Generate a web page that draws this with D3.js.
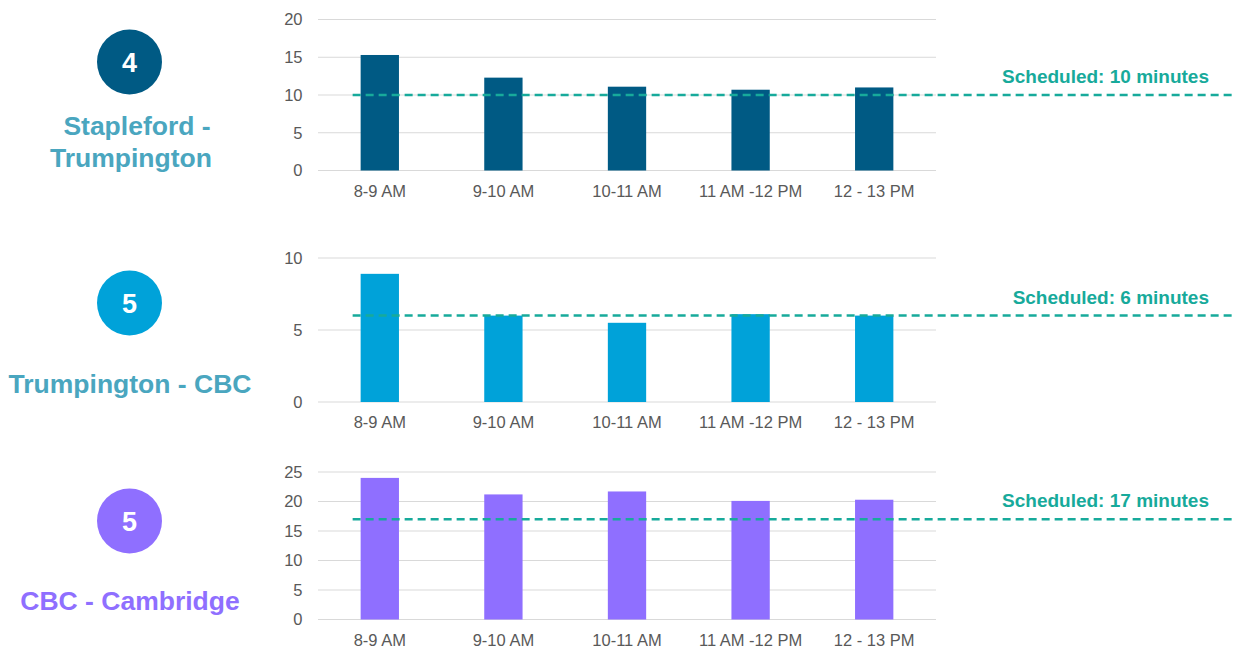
<!DOCTYPE html>
<html>
<head>
<meta charset="utf-8">
<script src="https://cdn.jsdelivr.net/npm/d3@7"></script>
<style>
  html, body { margin: 0; padding: 0; background: #ffffff; }
  svg { display: block; font-family: "Liberation Sans", Arial, sans-serif; }
</style>
</head>
<body>
<svg id="chart" width="1234" height="648"></svg>
<script>
// Time periods shared by every route panel
const periods = ["8-9 AM", "9-10 AM", "10-11 AM", "11 AM -12 PM", "12 - 13 PM"];

// Average headway (minutes) per route segment
const staplefordTrumpington = [15.3, 12.3, 11.1, 10.7, 11.0];
const trumpingtonCBC = [8.9, 6.0, 5.5, 6.1, 6.0];
const cbcCambridge = [24.0, 21.2, 21.7, 20.1, 20.3];

// Scheduled headway (minutes) per route segment
const scheduled = [10, 6, 17];

// Stop counts shown in the badges
const stopCounts = ["4", "5", "5"];
const routeNames = [["Stapleford -", "Trumpington"], ["Trumpington - CBC"], ["CBC - Cambridge"]];

// Y-axis tick values for each panel
const ticks1 = [0, 5, 10, 15, 20];
const ticks2 = [0, 5, 10];
const ticks3 = [0, 5, 10, 15, 20, 25];

const panels = [
  { values: staplefordTrumpington, max: 20, ticks: ticks1, top: 19.5, bottom: 170.5,
    color: "#005a84", nameColor: "#4aa6bf", badgeY: 62, nameY: [125, 157], nameX: [137, 131] },
  { values: trumpingtonCBC, max: 10, ticks: ticks2, top: 258, bottom: 402,
    color: "#00a2d9", nameColor: "#4aa6bf", badgeY: 303, nameY: [383], nameX: [130] },
  { values: cbcCambridge, max: 25, ticks: ticks3, top: 472, bottom: 619.5,
    color: "#8f6fff", nameColor: "#8f6fff", badgeY: 521, nameY: [600], nameX: [130] }
];

const svg = d3.select("#chart");
const plotLeft = 318, plotRight = 936;
const schedColor = "#17aa9b";

const x = d3.scaleBand()
  .domain(periods)
  .range([plotLeft, plotRight])
  .paddingInner(0.69)
  .paddingOuter(0.345);

panels.forEach((p, i) => {
  const y = d3.scaleLinear().domain([0, p.max]).range([p.bottom, p.top]);
  const g = svg.append("g");

  // horizontal gridlines
  g.selectAll("line.grid").data(p.ticks).join("line")
    .attr("class", "grid")
    .attr("x1", plotLeft).attr("x2", plotRight)
    .attr("y1", d => y(d)).attr("y2", d => y(d))
    .attr("stroke", "#d9d9d9").attr("stroke-width", 1.2);

  // y tick labels
  const yAxis = d3.axisLeft(y).tickValues(p.ticks).tickSize(0).tickPadding(0);
  const ya = g.append("g").attr("transform", "translate(302.5,0)").call(yAxis);
  ya.select(".domain").remove();
  ya.selectAll("text")
    .attr("font-size", 16.5).attr("fill", "#595959")
    .attr("font-family", "Liberation Sans, Arial, sans-serif");

  // bars
  g.selectAll("rect.bar").data(p.values).join("rect")
    .attr("class", "bar")
    .attr("x", (d, j) => x(periods[j]))
    .attr("width", x.bandwidth())
    .attr("y", d => y(d))
    .attr("height", d => y(0) - y(d))
    .attr("fill", p.color);

  // x tick labels
  const xAxis = d3.axisBottom(x).tickSize(0).tickPadding(0);
  const xa = g.append("g").attr("transform", `translate(0,${p.bottom + 26})`).call(xAxis);
  xa.select(".domain").remove();
  xa.selectAll("text")
    .attr("font-size", 16.5).attr("fill", "#595959")
    .attr("font-family", "Liberation Sans, Arial, sans-serif")
    .attr("dy", 0);

  // scheduled headway reference line
  const ys = y(scheduled[i]);
  g.append("line")
    .attr("x1", x(periods[0]) - 8).attr("x2", 1234)
    .attr("y1", ys).attr("y2", ys)
    .attr("stroke", schedColor).attr("stroke-width", 2.5)
    .attr("stroke-dasharray", "8,5");
  g.append("text")
    .attr("x", 1209).attr("y", ys - 12)
    .attr("text-anchor", "end")
    .attr("font-size", 19).attr("font-weight", "bold")
    .attr("fill", schedColor)
    .text(`Scheduled: ${scheduled[i]} minutes`);

  // route badge with stop count
  g.append("circle")
    .attr("cx", 129.5).attr("cy", p.badgeY).attr("r", 32.5)
    .attr("fill", p.color);
  g.append("text")
    .attr("x", 129.5).attr("y", p.badgeY)
    .attr("dy", "0.36em")
    .attr("text-anchor", "middle")
    .attr("font-size", 27).attr("font-weight", "bold")
    .attr("fill", "#ffffff")
    .text(stopCounts[i]);

  // route name
  routeNames[i].forEach((line, k) => {
    g.append("text")
      .attr("x", p.nameX[k]).attr("y", p.nameY[k])
      .attr("dy", "0.36em")
      .attr("text-anchor", "middle")
      .attr("font-size", 26.5).attr("font-weight", "bold")
      .attr("fill", p.nameColor)
      .text(line);
  });
});
</script>
</body>
</html>
